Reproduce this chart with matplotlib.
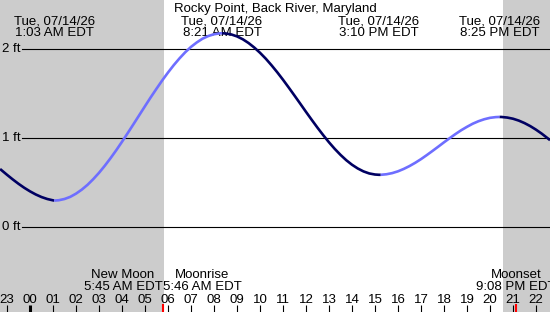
import matplotlib
matplotlib.use("Agg")
import matplotlib.pyplot as plt
import matplotlib.transforms as mtransforms

plt.rcParams['font.family'] = ['Liberation Sans', 'DejaVu Sans']

# ── Data ─────────────────────────────────────────────────────
title = "Rocky Point, Back River, Maryland"
date_label = "Tue, 07/14/26"

# tide extremes (hours after midnight) and their labels
extreme_hours = [1.05, 8.35, 15.17, 20.42]
extreme_labels = ["1:03 AM EDT", "8:21 AM EDT", "3:10 PM EDT", "8:25 PM EDT"]

# predicted water level (hours, feet)
tide_hours = [-1.30, -1.0, -0.75, -0.5, -0.25, 0.0, 0.25, 0.5, 0.75, 1.05,
              1.25, 1.5, 1.75, 2.0, 2.25, 2.5, 2.75, 3.0, 3.25, 3.5, 3.75,
              4.0, 4.25, 4.5, 4.75, 5.0, 5.25, 5.5, 5.75, 6.0, 6.25, 6.5,
              6.75, 7.0, 7.25, 7.5, 7.75, 8.0, 8.25, 8.35,
              8.5, 8.75, 9.0, 9.25, 9.5, 9.75, 10.0, 10.25, 10.5, 10.75,
              11.0, 11.25, 11.5, 11.75, 12.0, 12.25, 12.5, 12.75, 13.0,
              13.25, 13.5, 13.75, 14.0, 14.25, 14.5, 14.75, 15.0, 15.17,
              15.25, 15.5, 15.75, 16.0, 16.25, 16.5, 16.75, 17.0, 17.25,
              17.5, 17.75, 18.0, 18.25, 18.5, 18.75, 19.0, 19.25, 19.5,
              19.75, 20.0, 20.25, 20.42,
              20.5, 20.75, 21.0, 21.25, 21.5, 21.75, 22.0, 22.25, 22.5, 22.61]
tide_ft = [0.655, 0.590, 0.538, 0.489, 0.444, 0.404, 0.369, 0.340, 0.318, 0.300,
           0.304, 0.318, 0.342, 0.378, 0.423, 0.477, 0.541, 0.612, 0.691, 0.776,
           0.866, 0.961, 1.059, 1.159, 1.260, 1.361, 1.461, 1.557, 1.651, 1.739,
           1.822, 1.898, 1.967, 2.027, 2.077, 2.119, 2.149, 2.169, 2.179, 2.180,
           2.178, 2.167, 2.145, 2.113, 2.071, 2.020, 1.961, 1.895, 1.821, 1.742,
           1.658, 1.570, 1.480, 1.389, 1.297, 1.207, 1.119, 1.035, 0.955,
           0.881, 0.814, 0.754, 0.703, 0.661, 0.628, 0.605, 0.593, 0.590,
           0.590, 0.596, 0.609, 0.629, 0.656, 0.688, 0.725, 0.766, 0.811,
           0.858, 0.906, 0.955, 1.002, 1.048, 1.091, 1.129, 1.164, 1.192,
           1.214, 1.230, 1.238, 1.240,
           1.2396, 1.233, 1.220, 1.199, 1.171, 1.137, 1.097, 1.052, 1.002, 0.979]

sunrise, sunset = 5.83, 20.57
moon_names = ["New Moon", "Moonrise", "Moonset"]
moon_hours = [5.75, 5.77, 21.13]
moon_labels = ["5:45 AM EDT", "5:46 AM EDT", "9:08 PM EDT"]
moon_align = ["right", "left", "center"]
red_tick_hours = [5.78, 21.15]

level_ticks = [0, 1, 2]
hour_ticks = list(range(-1, 24))
hour_labels = ["%02d" % (h % 24) for h in hour_ticks]

# ── Geometry (pixels -> data) ────────────────────────────────
W, H = 550, 312
PX_H = 23.0           # pixels per hour
PX_FT = 89.0          # pixels per foot
X0, Y0 = 30.0, 227.3  # midnight / 0 ft
xmin, xmax = -X0 / PX_H, (W - X0) / PX_H
ymax, ymin = Y0 / PX_FT, (Y0 - H) / PX_FT

def fy(py):
    return 1 - py / H

rising_c = "#6e6eff"
falling_c = "#000062"
night_c = "#cccccc"
fs = 9.5

fig = plt.figure(figsize=(W / 100, H / 100), dpi=100)
ax = fig.add_axes([0, 0, 1, 1])
ax.set_xlim(xmin, xmax)
ax.set_ylim(ymin, ymax)
ax.axis("off")
bt = mtransforms.blended_transform_factory(ax.transData, ax.transAxes)

# night shading
ax.axvspan(xmin, sunrise, color=night_c, lw=0, zorder=0)
ax.axvspan(sunset, xmax, color=night_c, lw=0, zorder=0)

# level lines
x_line0 = (22 - X0) / PX_H
for lv in level_ticks:
    ax.plot([x_line0, xmax], [lv, lv], color="black", lw=0.8, zorder=2)
    ax.text(2 / PX_H + xmin, lv, "%d ft" % lv, ha="left", va="center",
            fontsize=fs, zorder=3)

# tide curve, coloured by rising / falling runs
start = 0
for i in range(1, len(tide_hours)):
    last = i == len(tide_hours) - 1
    up = tide_ft[i] > tide_ft[i - 1]
    nxt_up = (tide_ft[i + 1] > tide_ft[i]) if not last else up
    if last or nxt_up != up:
        ax.plot(tide_hours[start:i + 1], tide_ft[start:i + 1],
                color=rising_c if up else falling_c, lw=1.9,
                solid_capstyle="butt", solid_joinstyle="round", zorder=4)
        start = i

# header labels
ax.text((xmin + xmax) / 2, fy(12), title, transform=bt, ha="center",
        va="baseline", fontsize=fs, zorder=3)
for hx, lab in zip(extreme_hours, extreme_labels):
    ax.text(hx, fy(25), date_label, transform=bt, ha="center",
            va="baseline", fontsize=fs, zorder=3)
    ax.text(hx, fy(36), lab, transform=bt, ha="center",
            va="baseline", fontsize=fs, zorder=3)

# moon / sun events
for name, hx, lab, al in zip(moon_names, moon_hours, moon_labels, moon_align):
    ax.text(hx, fy(290), name + "\n" + lab, transform=bt, ha=al,
            va="baseline", multialignment="center", fontsize=fs,
            linespacing=1.0, zorder=3)

# hour axis
for h, lab in zip(hour_ticks, hour_labels):
    ax.text(h, fy(303), lab, transform=bt, ha="center", va="baseline",
            fontsize=fs, zorder=3)
    ax.plot([h, h], [fy(305), fy(312)], transform=bt, color="black",
            lw=2.2 if h == 0 else 0.8, solid_capstyle="butt", zorder=3)
for h in red_tick_hours:
    ax.plot([h, h], [fy(304), fy(312)], transform=bt, color="red",
            lw=1.5, solid_capstyle="butt", zorder=3)

fig.savefig("out.png", dpi=100)
